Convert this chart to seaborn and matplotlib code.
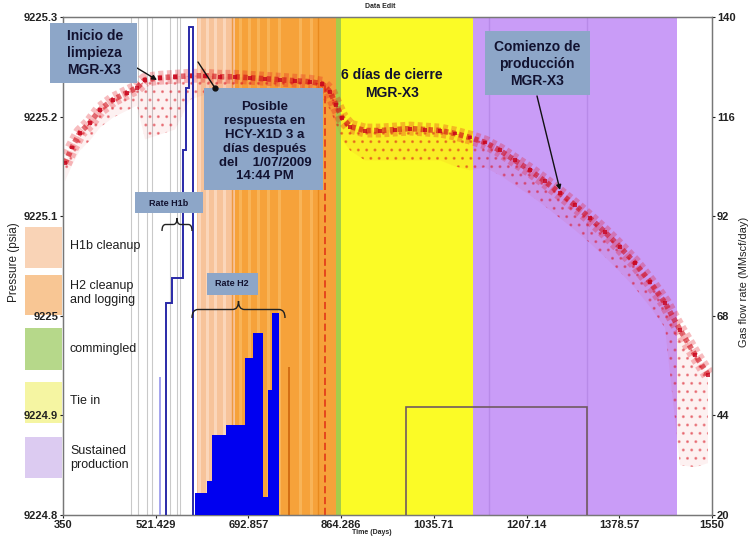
import matplotlib
matplotlib.use("Agg")
import matplotlib.pyplot as plt
from matplotlib.patches import Rectangle, PathPatch
from matplotlib.path import Path
import pandas as pd
import seaborn as sns

sns.set_theme(style="white")
plt.rcParams["font.family"] = ["Liberation Sans", "DejaVu Sans"]
plt.rcParams["hatch.linewidth"] = 1.0

# ---------------------------------------------------------------- data
# Pressure trend (days, psia) and lower end of the scatter streak at each sample
press_days = [353.7, 366.6, 381.4, 399.9, 418.4, 442.5, 468.3, 486.8,
              501.6, 529.4, 557.1, 584.8, 612.6, 640.3, 668.0, 695.8, 723.5,
              751.2, 779.0, 806.7, 828.9,
              843.7, 854.8, 865.9, 880.7,
              908.4, 936.1, 963.9, 991.6, 1019.3, 1047.1, 1074.8, 1102.5,
              1130.3, 1158.0, 1185.7, 1213.5, 1241.2, 1268.9, 1296.7, 1324.4,
              1352.1, 1379.9, 1407.6, 1435.3, 1463.1,
              1490.8, 1518.5, 1542.6]
press_psia = [9225.153, 9225.169, 9225.184, 9225.194, 9225.207, 9225.217, 9225.224, 9225.229,
              9225.237, 9225.239, 9225.240, 9225.241, 9225.241, 9225.240, 9225.240, 9225.239,
              9225.238, 9225.237, 9225.236, 9225.235, 9225.233,
              9225.225, 9225.212, 9225.199, 9225.190,
              9225.186, 9225.186, 9225.187, 9225.188, 9225.187, 9225.186, 9225.183, 9225.179,
              9225.174, 9225.166, 9225.156, 9225.146, 9225.135, 9225.123, 9225.111, 9225.098,
              9225.084, 9225.069, 9225.053, 9225.034, 9225.013,
              9224.986, 9224.961, 9224.941]
press_low = [9225.135, 9225.151, 9225.166, 9225.176, 9225.189, 9225.199, 9225.206, 9225.211,
             9225.177, 9225.182, 9225.187, 9225.217, 9225.222, 9225.222, 9225.222, 9225.222,
             9225.222, 9225.222, 9225.221, 9225.221, 9225.219,
             9225.207, 9225.192, 9225.177, 9225.166,
             9225.156, 9225.156, 9225.156, 9225.156, 9225.156, 9225.156, 9225.150, 9225.146,
             9225.149, 9225.141, 9225.131, 9225.121, 9225.110, 9225.098, 9225.086, 9225.073,
             9225.059, 9225.044, 9225.028, 9225.009, 9224.988,
             9224.850, 9224.848, 9224.852]

# Well phases (start / end day)
phase_names = ["H1b cleanup", "H2 cleanup\nand logging", "commingled", "Tie in",
               "Sustained\nproduction"]
phase_start = [598, 668, 855, 864, 1108]
phase_end = [668, 855, 864, 1108, 1485]
phase_colors = ["#f7c39a", "#f6a23a", "#a6cc4a", "#fbfb26", "#c99cf7"]
legend_colors = ["#f9d3b6", "#f8c694", "#b6d88a", "#f5f5a2", "#dccbf1"]

# Gas flow rates (MMscf/day) as step series: bin edges (days) and values
h1b_edges = [540.4, 551.5, 571.9, 577.4, 583.0, 590.4]
h1b_rate = [71.1, 77.1, 108.0, 122.9, 137.6]
h1b_early_edges = [527.5, 531.0]
h1b_early_rate = [53.3]
h2_edges = [594, 616, 625.5, 651, 686.5, 701, 720, 729, 736.5, 749]
h2_rate = [25.3, 28.2, 39.3, 41.7, 57.8, 63.9, 24.3, 50.1, 68.7]
tie_edges = [984.2, 1318.9]
tie_rate = [46.0]
late_flow_day = [768.0]
late_flow_rate = [55.7]

# Operational marks (days)
test_marks = [475.7, 488.7, 505.3, 514.6, 547.8, 560.8, 566.0]
light_stripes = [601.5, 616.3, 631.1, 647.7, 677.3, 693.9, 710.6, 729.0, 749.4, 788.2, 808.5]
dark_stripes = [662.0, 821.5]
shut_in_day = 834.4
shut_in_top = 9225.233
purple_marks = [1137.0, 1318.0]

x_ticks = [350, 521.429, 692.857, 864.286, 1035.71, 1207.14, 1378.57, 1550]
x_ticklabels = ["350", "521.429", "692.857", "864.286", "1035.71", "1207.14", "1378.57", "1550"]
p_ticks = [9224.8, 9224.9, 9225.0, 9225.1, 9225.2, 9225.3]
p_ticklabels = ["9224.8", "9224.9", "9225", "9225.1", "9225.2", "9225.3"]
q_ticks = [20, 44, 68, 92, 116, 140]

# ---------------------------------------------------------------- figure
W, H = 749, 539
fig = plt.figure(figsize=(W / 100, H / 100), dpi=100)
fig.patch.set_facecolor("white")


def fx(px):
    return px / W


def fy(py):
    return 1 - py / H


ax = fig.add_axes([fx(63), fy(515), 649 / W, 498 / H])
ax.set_xlim(350, 1550)
ax.set_ylim(9224.8, 9225.3)
ax2 = ax.twinx()
ax2.set_ylim(20, 140)

# phase shading
for s, e, c in zip(phase_start, phase_end, phase_colors):
    ax.axvspan(s, e, color=c, lw=0, zorder=0)
for d in light_stripes:
    c = "#fbd6ba" if d < 668 else "#f8b458"
    ax.axvline(d, color=c, lw=2.2, zorder=0.5)
for d in dark_stripes:
    ax.axvline(d, color="#ee9a40" if d < 668 else "#e88a1e", lw=1.0, zorder=0.5)
for d in purple_marks:
    ax.axvline(d, color="#b88ae8", lw=1.0, zorder=0.5)
for d in test_marks:
    ax.axvline(d, color="#c9c9c9", lw=0.8, zorder=0.6)

# pressure scatter: dotted cloud below the trend, speckled band on the trend
df = pd.DataFrame({"day": press_days, "p": press_psia, "low": press_low})
ax.fill_between(df["day"], df["low"], df["p"], facecolor=(0.9, 0.1, 0.12, 0.06),
                hatch="..", edgecolor=(0.85, 0.05, 0.1, 0.38), lw=0, zorder=2)
sns.lineplot(data=df, x="day", y="p", ax=ax, color="#e4101a", lw=10, alpha=0.28,
             zorder=3, legend=False, linestyle=(0, (0.35, 0.25)))
sns.lineplot(data=df, x="day", y="p", ax=ax, color="#d00a16", lw=4, alpha=0.6,
             zorder=3, legend=False, linestyle=(0, (0.8, 0.6)))
sns.scatterplot(data=df, x="day", y="p", ax=ax, color="#c8001a", marker="s",
                s=8, alpha=0.8, edgecolor="none", zorder=3, legend=False)
ax.vlines([shut_in_day], 9224.8, shut_in_top, colors="#e4401a", lw=1.3,
          linestyles=(0, (4, 2)), zorder=2)

# gas rates
ax2.stairs(h2_rate, h2_edges, baseline=20, fill=True, color="#0000f0", zorder=4)
ax2.stairs(h1b_early_rate, h1b_early_edges, baseline=20, fill=True, color="#a6a6ee", zorder=4)
ax2.stairs(h1b_rate, h1b_edges, baseline=20, fill=False, color="#2a2aa8", lw=1.4, zorder=4)
ax2.stairs(tie_rate, tie_edges, baseline=20, fill=False, color="#705a60", lw=1.2, zorder=4)
ax2.vlines(late_flow_day, 20, late_flow_rate, colors="#d06a10", lw=1.3, zorder=4)

# axes cosmetics
ax.set_xticks(x_ticks, x_ticklabels)
ax.set_yticks(p_ticks, p_ticklabels)
ax2.set_yticks(q_ticks, [str(v) for v in q_ticks])
for a in (ax, ax2):
    a.tick_params(labelsize=8, length=2.5, width=0.8, pad=1, colors="#222222")
    for lab in a.get_xticklabels() + a.get_yticklabels():
        lab.set_fontweight("bold")
    for sp in a.spines.values():
        sp.set_color("#777777")
        sp.set_linewidth(0.9)
ax.tick_params(axis="y", left=True)
ax.tick_params(axis="x", bottom=True)
ax2.tick_params(axis="y", right=True)
ax.set_xlabel("")
ax.set_ylabel("")
ax2.set_ylabel("")
ax.grid(False)
ax2.grid(False)

fig.text(fx(380), fy(6), "Data Edit", fontsize=5, fontweight="bold", ha="center", va="center")
fig.text(fx(372), fy(533), "Time (Days)", fontsize=5, fontweight="bold", ha="center", va="center")
fig.text(fx(14), fy(262), "Pressure (psia)", fontsize=8.5, rotation=90, ha="center", va="center",
         color="#222222")
fig.text(fx(744), fy(282), "Gas flow rate (MMscf/day)", fontsize=8, rotation=90, ha="center",
         va="center", color="#222222")

# legend block
leg_rows = [(227, 268), (275, 315), (328, 370), (382, 423), (437, 478)]
leg_text_y = [246, 293, 349, 401, 458]
for (t, b), c, name, ty in zip(leg_rows, legend_colors, phase_names, leg_text_y):
    fig.add_artist(Rectangle((fx(25), fy(b)), 37 / W, (b - t) / H, transform=fig.transFigure,
                             facecolor=c, edgecolor="none", zorder=0))
    fig.text(fx(70), fy(ty), name, fontsize=9, ha="left", va="center", color="#1e1e1e",
             linespacing=1.15)

# callout boxes
BOX = "#8da6c8"
TXT = "#121230"


def callout(x0, y0, x1, y1, text, tx, ty, size, ha="center", lsp=1.25):
    fig.add_artist(Rectangle((fx(x0), fy(y1)), (x1 - x0) / W, (y1 - y0) / H,
                             transform=fig.transFigure, facecolor=BOX, edgecolor="none",
                             zorder=5))
    fig.text(fx(tx), fy(ty), text, fontsize=size, fontweight="bold", color=TXT, ha=ha,
             va="center", linespacing=lsp, zorder=6)


callout(50, 23, 137, 83, "Inicio de\nlimpieza\nMGR-X3", 67, 53, 10, ha="left", lsp=1.3)
callout(204, 88, 323, 190, "Posible\nrespuesta en\nHCY-X1D 3 a\ndías después\ndel    1/07/2009\n14:44 PM",
        265, 142, 9.5, lsp=1.2)
callout(485, 31, 590, 95, "Comienzo de\nproducción\nMGR-X3", 537, 64, 10, lsp=1.3)
callout(135, 192, 203, 213, "Rate H1b", 169, 203, 6.5)
callout(207, 273, 258, 295, "Rate H2", 232, 284, 6.5)
fig.text(fx(392), fy(84), "6 días de cierre\nMGR-X3", fontsize=10, fontweight="bold",
         color=TXT, ha="center", va="center", linespacing=1.3)

arrow = dict(arrowstyle="-|>", color="#111111", lw=1.0, mutation_scale=7, shrinkA=0, shrinkB=0)
ax.annotate("", xy=(fx(157), fy(80)), xycoords="figure fraction",
            xytext=(fx(137), fy(68)), textcoords="figure fraction", arrowprops=arrow, zorder=7)
ax.annotate("", xy=(fx(560), fy(190)), xycoords="figure fraction",
            xytext=(fx(537), fy(96)), textcoords="figure fraction", arrowprops=arrow, zorder=7)
fig.add_artist(plt.Line2D([fx(215), fx(198)], [fy(88), fy(62)], color="#111111", lw=1.0,
                          transform=fig.transFigure, zorder=7))
fig.add_artist(plt.Line2D([fx(215)], [fy(88)], marker="o", ms=3.5, color="#111111",
                          transform=fig.transFigure, zorder=7))


def brace(x0, x1, y_tip, y_end, lw=1.0):
    xm = (x0 + x1) / 2
    ymid = (y_tip + y_end) / 2
    q = min(6, (x1 - x0) * 0.12)
    pts = [(x0, y_end), (x0, ymid), (x0 + q, ymid), (xm - q, ymid), (xm, ymid), (xm, y_tip),
           (xm, ymid), (xm + q, ymid), (x1 - q, ymid), (x1, ymid), (x1, y_end)]
    codes = [Path.MOVETO, Path.CURVE3, Path.CURVE3, Path.LINETO, Path.CURVE3, Path.CURVE3,
             Path.CURVE3, Path.CURVE3, Path.LINETO, Path.CURVE3, Path.CURVE3]
    verts = [(fx(a), fy(b)) for a, b in pts]
    fig.add_artist(PathPatch(Path(verts, codes), transform=fig.transFigure, facecolor="none",
                             edgecolor="#222222", lw=lw, zorder=7))


brace(162, 192, 218, 231)
brace(192, 285, 301, 318)

fig.savefig("out.png", dpi=100)
